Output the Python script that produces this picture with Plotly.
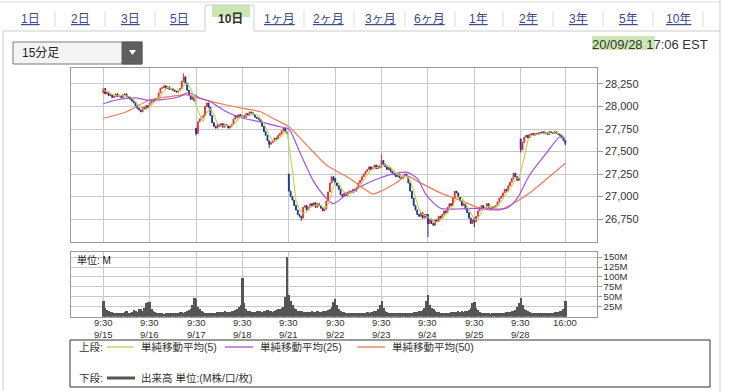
import plotly.graph_objects as go
import pandas as pd

W, H = 730, 391

# ---------------- data ----------------
day_labels = ["9/15", "9/16", "9/17", "9/18", "9/21", "9/22", "9/23", "9/24", "9/25", "9/28"]
bars_per_day = 26
tick_times = ["9:30"] * 10 + ["16:00"]
tick_dates = day_labels + [""]

day_opens = [28150, 28020, 27760, 27890, 27250, 27200, 27330, 26800, 26760, 27640]

close_0915 = [28200, 28140, 28160, 28120, 28130, 28100, 28110, 28140, 28110, 28120, 28100, 28130, 28140,
              28110, 28100, 28080, 28060, 28040, 28010, 27980, 27960, 27940, 27990, 27970, 28010, 27990]
close_0916 = [28040, 28070, 28060, 28090, 28080, 28150, 28200, 28210, 28230, 28200, 28220, 28190, 28200,
              28180, 28170, 28160, 28180, 28200, 28280, 28330, 28260, 28180, 28120, 28080, 28100, 28060]
close_0917 = [27700, 27830, 27860, 27880, 27900, 28000, 28040, 27990, 27900, 27820, 27780, 27760, 27800,
              27780, 27810, 27770, 27800, 27790, 27760, 27780, 27800, 27860, 27900, 27880, 27910, 27890]
close_0918 = [27900, 27880, 27920, 27900, 27940, 27930, 27910, 27880, 27870, 27860, 27830, 27780, 27720,
              27680, 27620, 27580, 27600, 27620, 27650, 27640, 27680, 27700, 27730, 27760, 27720, 27700]
close_0921 = [27060, 27000, 26960, 26900, 26850, 26800, 26780, 26760, 26880, 26900, 26850, 26880, 26920,
              26900, 26930, 26880, 26920, 26900, 26870, 26840, 26860, 26950, 27050, 27150, 27220, 27180]
close_0922 = [27150, 27120, 27080, 27020, 27000, 27040, 27010, 27050, 27060, 27040, 27080, 27060, 27100,
              27150, 27180, 27220, 27250, 27280, 27300, 27330, 27300, 27320, 27350, 27310, 27340, 27320]
close_0923 = [27400, 27360, 27330, 27300, 27320, 27280, 27260, 27240, 27220, 27250, 27210, 27200, 27230,
              27250, 27220, 27150, 27060, 26980, 26900, 26850, 26800, 26780, 26820, 26760, 26800, 26770]
close_0924 = [26700, 26750, 26700, 26680, 26740, 26720, 26780, 26760, 26800, 26840, 26820, 26880, 26920,
              26900, 26980, 27060, 27040, 26990, 26950, 26900, 26920, 26860, 26820, 26760, 26700, 26740]
close_0925 = [26720, 26780, 26840, 26880, 26900, 26860, 26880, 26920, 26880, 26860, 26890, 26880, 26900,
              26940, 26980, 27000, 27040, 27080, 27060, 27120, 27160, 27200, 27260, 27220, 27180, 27200]
close_0928 = [27520, 27600, 27660, 27680, 27650, 27690, 27700, 27680, 27700, 27690, 27710, 27700, 27720,
              27700, 27710, 27690, 27720, 27710, 27700, 27720, 27700, 27690, 27680, 27650, 27620, 27590]
closes_by_day = [close_0915, close_0916, close_0917, close_0918, close_0921,
                 close_0922, close_0923, close_0924, close_0925, close_0928]

# notable wick extremes (bar index, high, low)
ext_bar = [45, 52, 93, 111, 156, 182, 208, 234, 259]
ext_high = [28370, None, None, None, 27470, None, None, None, None]
ext_low = [None, 27680, 27540, 26730, None, 26550, 26660, 27490, 27570]

# SMA(25) / SMA(50) (bar index, value)
sma25_idx = [0, 8, 18, 25, 33, 42, 47, 51, 54, 60, 69, 78, 88, 99, 104, 110, 118, 125, 129, 136,
             146, 155, 164, 170, 176, 181, 189, 198, 207, 226, 232, 239, 249, 256, 259]
sma25_val = [28030, 28075, 28095, 28070, 28076, 28105, 28150, 28130, 28095, 28053, 27942, 27872, 27830,
             27775, 27750, 27497, 27165, 26980, 26920, 27017, 27128, 27206, 27258, 27270, 27202, 27017,
             26869, 26861, 26869, 26869, 26980, 27239, 27497, 27664, 27640]
sma50_idx = [0, 13, 26, 37, 47, 54, 69, 78, 88, 95, 104, 114, 125, 130, 138, 151, 155, 164, 170, 177,
             189, 200, 211, 222, 230, 239, 249, 259]
sma50_val = [27869, 27942, 28072, 28109, 28128, 28091, 28017, 27980, 27942, 27869, 27776, 27570, 27350,
             27290, 27202, 27030, 27054, 27150, 27230, 27160, 27040, 26960, 26870, 26850, 26925, 27040,
             27202, 27369]

vol_0915 = [39, 22, 16, 14, 12, 11, 10, 9, 9, 8, 9, 10, 12, 14, 10, 9, 11, 16, 14, 12, 18, 20, 15, 22, 34, 37]
vol_0916 = [36, 20, 15, 12, 10, 9, 8, 8, 7, 8, 8, 9, 8, 9, 10, 9, 10, 12, 11, 10, 12, 14, 16, 20, 30, 46]
vol_0917 = [45, 25, 18, 14, 12, 10, 9, 9, 8, 8, 9, 10, 11, 12, 12, 11, 13, 12, 11, 12, 13, 14, 16, 18, 24, 30]
vol_0918 = [97, 35, 20, 15, 13, 12, 11, 12, 13, 14, 13, 12, 14, 15, 16, 14, 13, 12, 14, 16, 18, 20, 22, 25, 48, 150]
vol_0921 = [55, 40, 30, 22, 18, 15, 14, 13, 12, 12, 11, 12, 12, 13, 12, 12, 13, 12, 12, 13, 14, 15, 16, 18, 24, 36]
vol_0922 = [45, 28, 18, 14, 12, 11, 10, 9, 9, 8, 8, 9, 9, 8, 9, 10, 9, 10, 11, 10, 11, 12, 13, 14, 18, 30]
vol_0923 = [40, 22, 15, 12, 10, 9, 9, 8, 8, 8, 9, 8, 9, 10, 9, 10, 9, 10, 11, 11, 12, 13, 14, 16, 22, 38]
vol_0924 = [55, 30, 22, 18, 14, 12, 11, 10, 10, 9, 10, 9, 10, 11, 12, 11, 12, 13, 12, 13, 12, 13, 14, 16, 22, 34]
vol_0925 = [36, 22, 16, 12, 10, 9, 8, 8, 8, 7, 8, 8, 9, 8, 9, 10, 9, 10, 11, 11, 12, 13, 14, 17, 24, 34]
vol_0928 = [46, 30, 20, 16, 13, 11, 10, 9, 9, 8, 8, 8, 9, 9, 8, 9, 9, 10, 10, 11, 11, 12, 13, 15, 20, 40]
vols_by_day = [vol_0915, vol_0916, vol_0917, vol_0918, vol_0921,
               vol_0922, vol_0923, vol_0924, vol_0925, vol_0928]

price_ticks = [26750, 27000, 27250, 27500, 27750, 28000, 28250]
vol_ticks = [25, 50, 75, 100, 125, 150]
vol_tick_text = ["25M", "50M", "75M", "100M", "125M", "150M"]

tab_labels = ["1日", "2日", "3日", "5日", "10日", "1ヶ月", "2ヶ月", "3ヶ月", "6ヶ月", "1年", "2年", "3年", "5年", "10年"]
selected_tab = "10日"
legend_labels = ["単純移動平均(5)", "単純移動平均(25)", "単純移動平均(50)"]
timestamp = "20/09/28 17:06 EST"
interval_label = "15分足"

# ---------------- derived ----------------
closes, opens, vols = [], [], []
for d, day in enumerate(closes_by_day):
    for i, c in enumerate(day):
        opens.append(day_opens[d] if i == 0 else day[i - 1])
        closes.append(c)
for day in vols_by_day:
    vols.extend(day)
highs = [max(o, c) for o, c in zip(opens, closes)]
lows = [min(o, c) for o, c in zip(opens, closes)]
for i, hh, ll in zip(ext_bar, ext_high, ext_low):
    if hh is not None:
        highs[i] = max(highs[i], hh)
    if ll is not None:
        lows[i] = min(lows[i], ll)
xs = list(range(len(closes)))
sma5 = pd.Series(closes).rolling(5, min_periods=1).mean().tolist()
tick_pos = [d * bars_per_day for d in range(len(day_labels))] + [len(closes) - 1]

# ---------------- styling helpers ----------------
def px(x):
    return x / W

def py(y):
    return 1 - y / H

FONT = "Liberation Sans, Arial, Noto Sans CJK JP, sans-serif"
RED = "#e8323a"
BLUE = "#22338f"
GREEN = "#b9d64a"
PURPLE = "#a252e0"
ORANGE = "#f07a5a"
GRID = "#c8c8c8"
BORDER = "#9a9a9a"

fig = go.Figure()
fig.add_trace(go.Candlestick(
    x=xs, open=opens, high=highs, low=lows, close=closes,
    increasing=dict(line=dict(color=RED, width=1), fillcolor=RED),
    decreasing=dict(line=dict(color=BLUE, width=1), fillcolor=BLUE),
    whiskerwidth=0, hoverinfo="skip", xaxis="x", yaxis="y", showlegend=False))
fig.add_trace(go.Scatter(x=sma50_idx, y=sma50_val, mode="lines", line=dict(color=ORANGE, width=1.2, shape="spline", smoothing=0.7),
                         xaxis="x", yaxis="y", showlegend=False, hoverinfo="skip"))
fig.add_trace(go.Scatter(x=sma25_idx, y=sma25_val, mode="lines", line=dict(color=PURPLE, width=1.2, shape="spline", smoothing=0.7),
                         xaxis="x", yaxis="y", showlegend=False, hoverinfo="skip"))
fig.add_trace(go.Scatter(x=xs, y=sma5, mode="lines", line=dict(color=GREEN, width=1.1),
                         xaxis="x", yaxis="y", showlegend=False, hoverinfo="skip"))
fig.add_trace(go.Bar(x=xs, y=vols, width=1, marker=dict(color="#555555", line=dict(width=0)),
                     xaxis="x2", yaxis="y2", showlegend=False, hoverinfo="skip"))

xrange_ = [-18.3, 276.6]
xdom = [px(70.7), px(596.7)]
common_x = dict(range=xrange_, domain=xdom, tickvals=tick_pos, showticklabels=False, ticks="",
                showgrid=True, gridcolor=GRID, gridwidth=1, showline=True, linecolor=BORDER, mirror=True,
                zeroline=False, fixedrange=True)

fig.update_layout(
    width=W, height=H, autosize=False, margin=dict(l=0, r=0, t=0, b=0),
    paper_bgcolor="white", plot_bgcolor="white", bargap=0,
    font=dict(family=FONT, size=11, color="#333"),
    xaxis=dict(common_x, anchor="y", rangeslider=dict(visible=False)),
    yaxis=dict(domain=[py(241.7), py(67.7)], range=[26498, 28431], side="right", anchor="x",
               tickvals=price_ticks, tickformat=",d", ticks="outside", ticklen=5, tickcolor=BORDER,
               showgrid=True, gridcolor=GRID, showline=True, linecolor=BORDER, mirror=True,
               zeroline=False, tickfont=dict(size=11, color="#333"), fixedrange=True),
    xaxis2=dict(common_x, anchor="y2"),
    yaxis2=dict(domain=[py(316.8), py(252.3)], range=[0, 162], side="right", anchor="x2",
                tickvals=vol_ticks, ticktext=vol_tick_text, ticks="outside", ticklen=4, tickcolor=BORDER,
                showgrid=True, gridcolor=GRID, showline=True, linecolor=BORDER, mirror=True,
                zeroline=False, tickfont=dict(size=9.5, color="#333"), fixedrange=True),
)

shapes = []
ann = []

def line(x0, y0, x1, y1, color, width=1):
    shapes.append(dict(type="line", xref="paper", yref="paper", x0=px(x0), y0=py(y0), x1=px(x1), y1=py(y1),
                       line=dict(color=color, width=width)))

def rect(x0, y0, x1, y1, fill, color=None, width=0):
    shapes.append(dict(type="rect", xref="paper", yref="paper", x0=px(x0), y0=py(y0), x1=px(x1), y1=py(y1),
                       fillcolor=fill, line=dict(color=color or fill, width=width), layer="below"))

def text(x, y, s, size=11, color="#333", anchor="left"):
    ann.append(dict(xref="paper", yref="paper", x=px(x), y=py(y), text=s, showarrow=False,
                    xanchor=anchor, yanchor="middle", font=dict(size=size, color=color, family=FONT)))

# container / tab bar
line(0, 2, 720, 2, "#dddddd")
line(720, 0, 720, 391, "#cccccc")
line(3, 31, 3, 391, "#cccccc")
line(3, 31, 205, 31, "#cccccc")
line(254, 31, 720, 31, "#cccccc")
rect(212, 5, 250, 17, "rgba(160,210,115,0.55)")
shapes.append(dict(type="path", xref="paper", yref="paper",
                   path=f"M {px(205)},{py(31)} L {px(205)},{py(7)} Q {px(205)},{py(5)} {px(207)},{py(5)} "
                        f"L {px(252)},{py(5)} Q {px(254)},{py(5)} {px(254)},{py(7)} L {px(254)},{py(31)}",
                   line=dict(color="#cccccc", width=1)))
tab_x = [30, 80, 130, 179, 230, 279, 328, 380, 429, 478, 528, 578, 628, 678]
for tx, lab in zip(tab_x, tab_labels):
    if lab == selected_tab:
        text(tx, 19, f"<b>{lab}</b>", size=12, color="#333", anchor="center")
    else:
        text(tx, 19, f"<u>{lab}</u>", size=12, color="#3a4a92", anchor="center")
for sx in [55, 105, 155, 304, 354, 405, 455, 503, 553, 603, 653, 703]:
    line(sx, 11, sx, 27, "#dddddd")

# dropdown
shapes.append(dict(type="rect", xref="paper", yref="paper", x0=px(13), y0=py(64), x1=px(142), y1=py(42),
                   fillcolor="#f4f4f4", line=dict(color="#7a7a7a", width=1)))
shapes.append(dict(type="rect", xref="paper", yref="paper", x0=px(122), y0=py(64), x1=px(142), y1=py(42),
                   fillcolor="#5f5f5f", line=dict(color="#5a5a5a", width=1)))
shapes.append(dict(type="path", xref="paper", yref="paper",
                   path=f"M {px(129)},{py(50)} L {px(136)},{py(50)} L {px(132.5)},{py(55)} Z",
                   fillcolor="white", line=dict(color="white", width=0)))
text(20, 53, interval_label, size=12, color="#222")

# timestamp
rect(592, 36, 655, 50, "rgba(170,215,130,0.6)")
text(710, 45, timestamp, size=13, color="#333", anchor="right")

# volume unit label
text(75, 260, "単位: M", size=10, color="#222")

# x tick labels (time over date, one text per tick)
for tp, tt, td in zip(tick_pos, tick_times, tick_dates):
    label = f"{tt}<br>{td}" if td else tt
    ann.append(dict(xref="x2", yref="paper", x=tp, y=py(315.5), text=label, showarrow=False, xanchor="center",
                    yanchor="top", borderpad=0, font=dict(size=9.5, color="#333", family=FONT)))

# legend box
shapes.append(dict(type="rect", xref="paper", yref="paper", x0=px(70), y0=py(387), x1=px(710), y1=py(340),
                   fillcolor="rgba(0,0,0,0)", line=dict(color="#333", width=1)))
text(77, 347, "上段:", size=10.5)
line(107, 347, 133, 347, GREEN, 1.3)
text(139, 347, legend_labels[0], size=10.5)
line(225, 347, 253, 347, PURPLE, 1.3)
text(258, 347, legend_labels[1], size=10.5)
line(357, 347, 385, 347, ORANGE, 1.3)
text(390, 347, legend_labels[2], size=10.5)
text(77, 378, "下段:", size=10.5)
line(107, 378, 135, 378, "#555", 3)
text(139, 378, "出来高 単位:(M株/口/枚)", size=10.5)

fig.update_layout(shapes=shapes, annotations=ann)
fig.write_html("out.html", config={"displayModeBar": False},
               post_script="document.body.style.margin='0';document.body.style.padding='0';"
                           "document.body.style.overflow='hidden';")
